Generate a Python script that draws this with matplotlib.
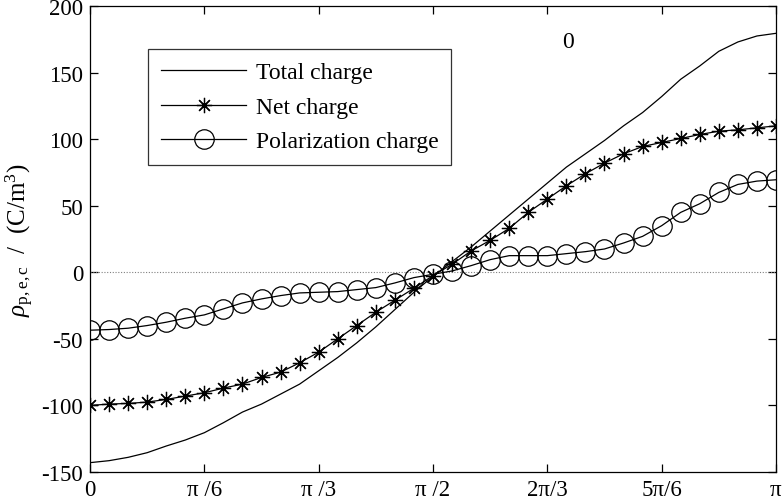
import numpy as np
import matplotlib
matplotlib.use("Agg")
import matplotlib.pyplot as plt

plt.rcParams['font.family'] = ['Liberation Serif', 'DejaVu Serif']
plt.rcParams['mathtext.fontset'] = 'custom'
plt.rcParams['mathtext.rm'] = 'Liberation Serif'
plt.rcParams['mathtext.it'] = 'Liberation Serif:italic'
plt.rcParams['axes.unicode_minus'] = False

# 37 samples, 0..pi in 5 degree steps
theta = np.linspace(0, np.pi, 37)

total = [-143, -141.5, -139, -135.5, -130.5, -126, -120.5, -113, -105, -99,
         -91.5, -84, -74, -64, -53, -41, -28, -15, -3, 8,
         19, 31, 43, 55, 67, 79, 89, 99, 110, 120,
         132, 145, 155, 166, 173, 177.5, 179.5]
net = [-100, -99, -98.5, -97.5, -95.5, -93, -90.5, -87, -84, -79,
       -75, -68, -60, -50, -40, -30, -21, -12, -2.5, 6,
       16, 24, 33, 45, 55, 65, 74, 82, 89, 94.5,
       97.5, 100.5, 103.5, 106, 107, 108.5, 110]
pol = [-43.5, -43, -42, -40, -37.5, -34.5, -32, -27.5, -23, -20,
       -17.5, -15.5, -15, -14.5, -13, -11.5, -8, -4, -1.5, 1,
       5, 9.5, 12.5, 12.5, 12.5, 14, 15.5, 17.5, 22, 27,
       35, 45, 51.5, 60, 66, 68.5, 69.5]

xticks = [0, np.pi/6, np.pi/3, np.pi/2, 2*np.pi/3, 5*np.pi/6, np.pi]
xticklabels = ['0', 'π /6', 'π /3', 'π /2', '2π/3', '5π/6', 'π']
yticks = [-150, -100, -50, 0, 50, 100, 150, 200]

fig = plt.figure(figsize=(7.82, 5.02), dpi=100)
ax = fig.add_axes([0.1151, 0.0578, 0.8772, 0.9282])

ax.axhline(0, color='gray', lw=0.8, ls=(0, (1, 1.5)))
ax.plot(theta, total, color='black', lw=0.9, label='Total charge')
ax.plot(theta, net, color='black', lw=0.9, marker=(8, 2, 0), ms=11,
        mew=0.9, label='Net charge')
ax.plot(theta, pol, color='black', lw=0.9, marker='o', ms=14, mfc='none',
        mew=0.9, label='Polarization charge')

ax.set_xlim(0, np.pi)
ax.set_ylim(-150, 200)
ax.set_xticks(xticks)
ax.set_xticklabels(xticklabels)
ax.set_yticks(yticks)
ax.tick_params(direction='in', length=6, width=0.9, top=True, right=True,
               labelsize=16.5, pad=5)
for s in ax.spines.values():
    s.set_linewidth(0.9)

ax.text(2.19, 173, '0', fontsize=17, ha='center', va='center')

ax.set_ylabel(r'$\rho_{\rm p,e,c}$  /  (C/m$^3$)', fontsize=18, labelpad=4)

leg = ax.legend(loc='upper left', bbox_to_anchor=(0.085, 0.908), fontsize=17,
                frameon=True, fancybox=False, edgecolor='black',
                handlelength=3.6, handletextpad=0.4, labelspacing=0.55,
                borderpad=0.55, borderaxespad=0)
leg.get_frame().set_linewidth(0.9)

fig.savefig('out.png', dpi=100)
